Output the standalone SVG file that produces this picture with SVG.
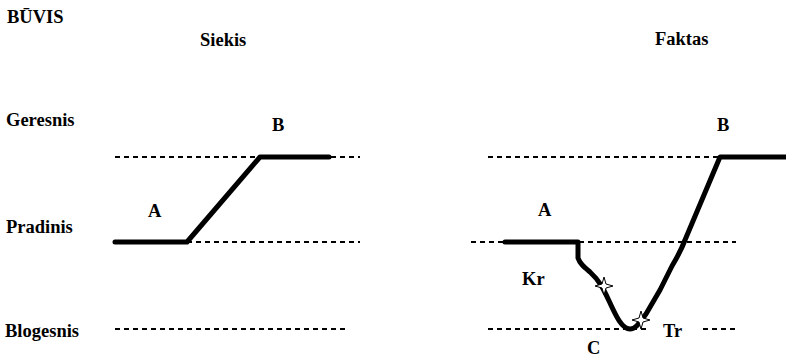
<svg xmlns="http://www.w3.org/2000/svg" width="786" height="358" viewBox="0 0 786 358" font-family="'Liberation Serif', 'Times New Roman', Times, serif" font-weight="bold" font-size="18.5">
<defs>
<style>
.dash{stroke:#000;stroke-width:2;stroke-dasharray:5 4;fill:none}
.thick{stroke:#000;stroke-width:5;fill:none;stroke-linecap:round;stroke-linejoin:round}
.star{fill:#fff;stroke:#000;stroke-width:1}
</style>
<path id="st" d="M0,-9 L2,-2 L9,0 L2,2 L0,9 L-2,2 L-9,0 L-2,-2 Z"/>
</defs>
<rect width="786" height="358" fill="#fff"/>
<g id="labels">
<text x="7" y="23">BŪVIS</text>
<text x="200" y="46">Siekis</text>
<text x="655" y="45">Faktas</text>
<text x="6" y="126">Geresnis</text>
<text x="6" y="233">Pradinis</text>
<text x="5" y="337">Blogesnis</text>
</g>
<g id="connectors">
<line class="dash" x1="115" y1="157" x2="360" y2="157"/>
<line class="dash" x1="187" y1="242" x2="360" y2="242"/>
<line class="dash" x1="115" y1="329" x2="348" y2="329"/>
<line class="dash" x1="488" y1="157" x2="720" y2="157"/>
<line class="dash" x1="471" y1="242" x2="736" y2="242"/>
<line class="dash" x1="488" y1="329" x2="648" y2="329"/>
<line class="dash" x1="703" y1="329" x2="736" y2="329"/>
</g>
<g id="siekis">
<path class="thick" d="M115,242 L187,242 L260,157 L329,157"/>
<text x="148" y="217">A</text>
<text x="272" y="131">B</text>
</g>
<g id="faktas">
<path class="thick" d="M505,242 L578,242 L578,258 C580,264 584,267 590,272 C600,281 604,290 610,303 C616,316 622,329 630,329 C636,329 640,322 646,314 L660,290 L672,266 C678,256 682,248 685,240 L720,157 L790,157"/>
<use href="#st" class="star" x="604" y="286"/>
<use href="#st" class="star" x="641" y="320"/>
<text x="538" y="216">A</text>
<text x="717" y="131">B</text>
<text x="522" y="285">Kr</text>
<text x="663" y="337">Tr</text>
<text x="587" y="354">C</text>
</g>
</svg>
